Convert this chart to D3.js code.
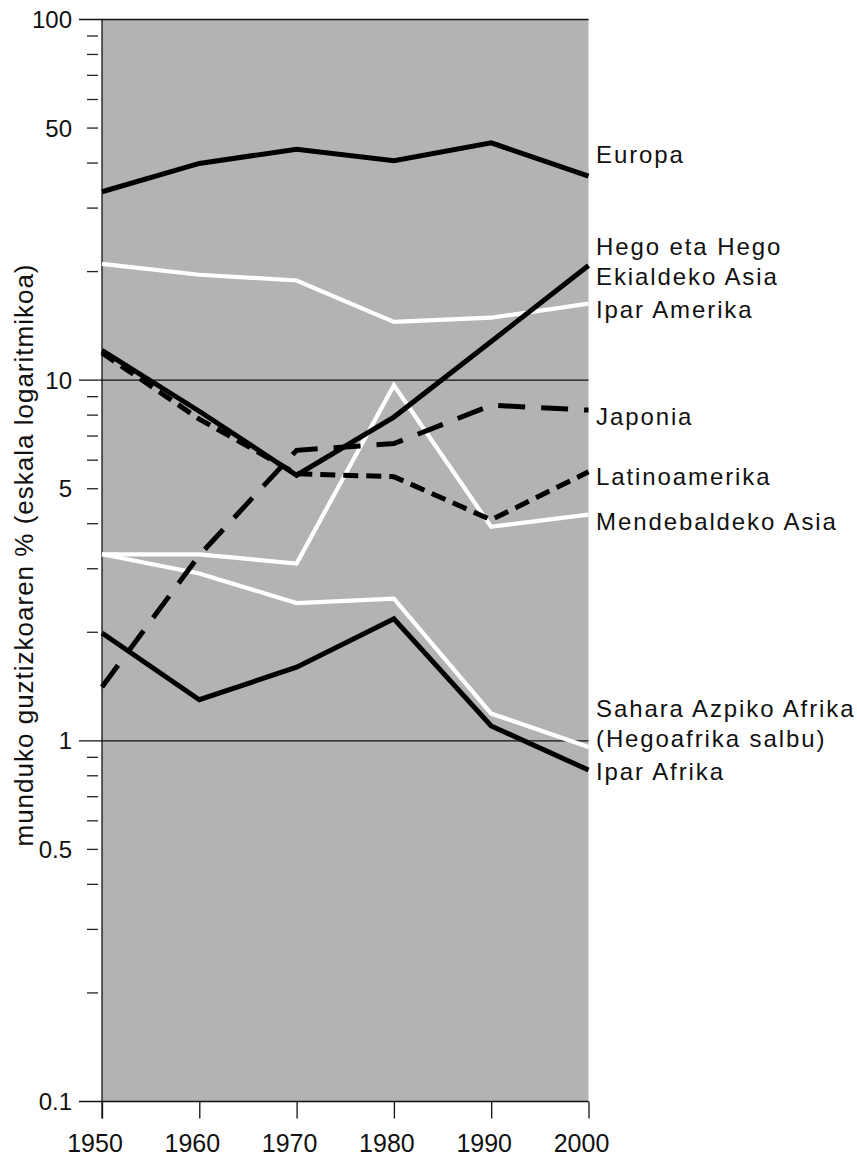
<!DOCTYPE html>
<html><head><meta charset="utf-8">
<script src="https://cdn.jsdelivr.net/npm/d3@7/dist/d3.min.js"></script>
<style>
html,body{margin:0;padding:0;background:#fff;}
svg text{font-family:"Liberation Sans",Arial,Helvetica,sans-serif;fill:#111;}
</style></head>
<body>
<svg id="chart" width="857" height="1156"></svg>
<script>
const years = [1950, 1960, 1970, 1980, 1990, 2000];
const europa = [33.3, 39.9, 43.7, 40.6, 45.5, 36.8];
const iparAmerika = [21.0, 19.6, 18.9, 14.5, 14.9, 16.3];
const hegoAsia = [12.1, 8.2, 5.45, 7.9, 12.8, 20.8];
const latinoamerika = [11.9, 7.8, 5.5, 5.4, 4.1, 5.57];
const japonia = [1.41, 3.27, 6.39, 6.67, 8.52, 8.26];
const mendebaldekoAsia = [3.29, 3.29, 3.10, 9.68, 3.92, 4.24];
const saharaAfrika = [3.29, 2.91, 2.41, 2.48, 1.19, 0.962];
const iparAfrika = [1.99, 1.30, 1.60, 2.18, 1.10, 0.83];

const yTickValues = [0.1, 0.5, 1, 5, 10, 50, 100];
const yTickLabels = ["0.1", "0.5", "1", "5", "10", "50", "100"];
const yTitle = "munduko guztizkoaren % (eskala logaritmikoa)";

const seriesDefs = [
  {name: "Ipar Amerika", values: iparAmerika, color: "#fff", dash: null, label: ["Ipar Amerika"], ly: 318},
  {name: "Mendebaldeko Asia", values: mendebaldekoAsia, color: "#fff", dash: null, label: ["Mendebaldeko Asia"], ly: 530},
  {name: "Sahara", values: saharaAfrika, color: "#fff", dash: null, label: ["Sahara Azpiko Afrika", "(Hegoafrika salbu)"], ly: 717},
  {name: "Europa", values: europa, color: "#000", dash: null, label: ["Europa"], ly: 163},
  {name: "Hego", values: hegoAsia, color: "#000", dash: null, label: ["Hego eta Hego", "Ekialdeko Asia"], ly: 255},
  {name: "Latinoamerika", values: latinoamerika, color: "#000", dash: "15,8", label: ["Latinoamerika"], ly: 485},
  {name: "Japonia", values: japonia, color: "#000", dash: "27,16", label: ["Japonia"], ly: 425},
  {name: "Ipar Afrika", values: iparAfrika, color: "#000", dash: null, label: ["Ipar Afrika"], ly: 780}
];

const svg = d3.select("#chart");
const pLeft = 102, pRight = 588.5, pTop = 19.5, pBottom = 1101.5;
const x = d3.scaleLinear().domain([1950, 2000]).range([pLeft, pRight]);
const y = d3.scaleLog().domain([0.1, 100]).range([pBottom, pTop]);

// background
svg.append("rect").attr("x", pLeft).attr("y", pTop).attr("width", pRight - pLeft).attr("height", pBottom - pTop).attr("fill", "#b3b3b3");

// minor ticks
const minor = [];
[0.1, 1, 10].forEach(d => { for (let k = 2; k <= 9; k++) minor.push(+(d * k).toPrecision(3)); });
svg.append("g").selectAll("line").data(minor).join("line")
  .attr("x1", 87).attr("x2", 98)
  .attr("y1", d => y(d)).attr("y2", d => y(d))
  .attr("stroke", "#222").attr("stroke-width", 1.3);

// major gridlines & ticks
[0.1, 1, 10, 100].forEach(v => {
  svg.append("line").attr("x1", 79).attr("x2", pRight).attr("y1", y(v)).attr("y2", y(v))
    .attr("stroke", "#111").attr("stroke-width", 1.3);
});

// y tick labels
svg.append("g").selectAll("text").data(yTickValues).join("text")
  .attr("x", 72).attr("y", d => y(d)).attr("dy", "0.36em")
  .attr("text-anchor", "end").attr("font-size", 24)
  .text((d, i) => yTickLabels[i]);

// x axis
const xAxis = d3.axisBottom(x).tickValues(years).tickFormat(d3.format("d")).tickSize(17).tickPadding(15.5);
const gx = svg.append("g").attr("transform", `translate(0,${pBottom})`).call(xAxis);
gx.select(".domain").remove();
gx.selectAll(".tick line").attr("stroke", "#111").attr("stroke-width", 1.3);
gx.selectAll(".tick text").attr("font-size", 25).attr("dx", "-7.5px")
  .attr("font-family", "Liberation Sans, Arial, sans-serif").attr("fill", "#111");

// left axis line
svg.append("line").attr("x1", pLeft).attr("x2", pLeft).attr("y1", pTop).attr("y2", pBottom + 17)
  .attr("stroke", "#111").attr("stroke-width", 1.3);

// lines
const line = d3.line().x((d, i) => x(years[i])).y(d => y(d));
seriesDefs.forEach(s => {
  svg.append("path").datum(s.values).attr("d", line)
    .attr("fill", "none").attr("stroke", s.color)
    .attr("stroke-width", s.color === "#fff" ? 4.2 : 5)
    .attr("stroke-linejoin", "miter").attr("stroke-linecap", "butt")
    .attr("stroke-dasharray", s.dash);
});

// labels
seriesDefs.forEach(s => {
  const t = svg.append("text").attr("x", 596).attr("y", s.ly).attr("font-size", 24).attr("letter-spacing", "1.9px");
  s.label.forEach((l, i) => {
    t.append("tspan").attr("x", 596).attr("dy", i === 0 ? 0 : 29.5).text(l);
  });
});

// y title
svg.append("text").attr("transform", "translate(33,555) rotate(-90)")
  .attr("text-anchor", "middle").attr("font-size", 26).attr("letter-spacing", "1px")
  .text(yTitle);
</script>
</body></html>
